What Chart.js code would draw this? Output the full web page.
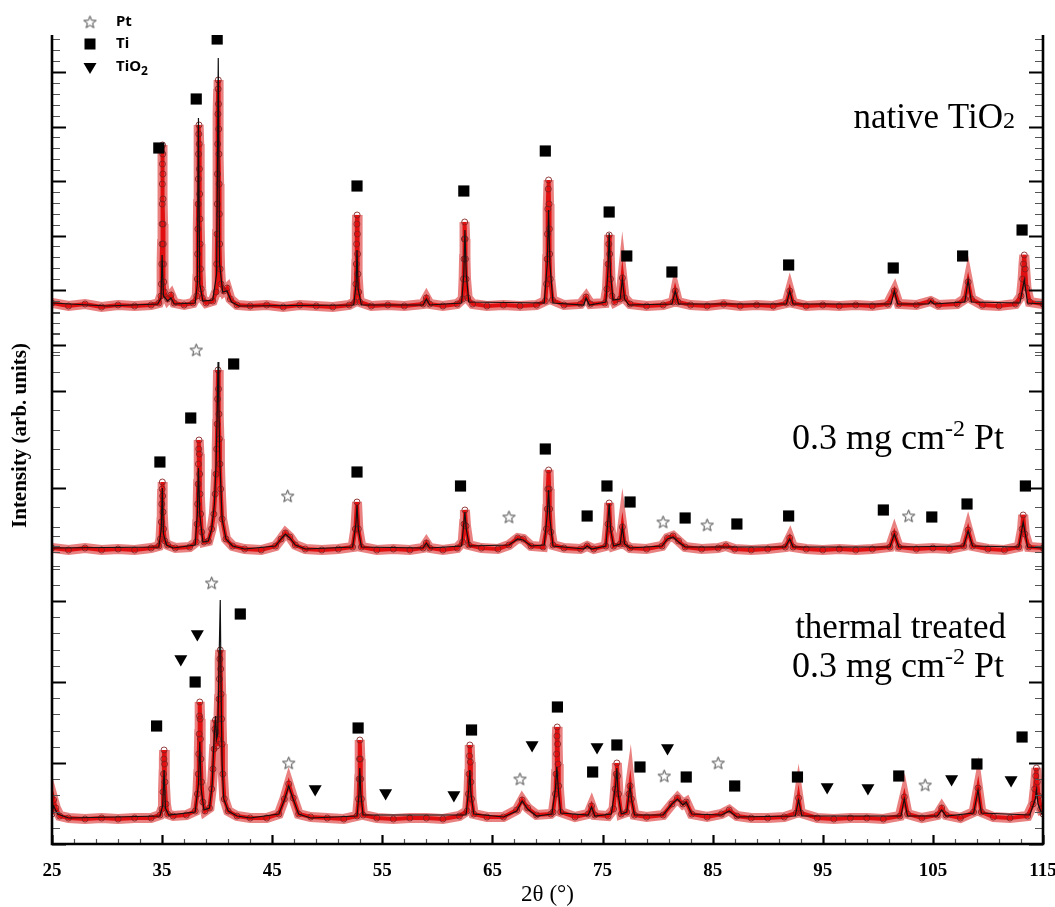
<!DOCTYPE html>
<html>
<head>
<meta charset="utf-8">
<title>XRD patterns</title>
<script src="https://cdn.jsdelivr.net/npm/chart.js@4.4.1/dist/chart.umd.min.js"></script>
<style>
  html, body { margin: 0; padding: 0; background: #fff; }
  #wrap { width: 1055px; height: 907px; }
</style>
</head>
<body>
<div id="wrap"><canvas id="xrdCanvas" width="1055" height="907"></canvas></div>
<script>
// 2theta / intensity pairs (intensity in arb. units)
const topObs = [[25,541],[26.5,538],[28,540],[29.5,537],[31,539],[32.5,538],[34,539],[34.7,541],
  [34.9,548],[34.94,560],[34.97,580],[34.99,600],[35.0,620],[35.01,640],[35.02,660],[35.03,680],[35.04,699],[35.06,690],[35.07,670],[35.08,645],[35.09,620],
  [35.1,600],[35.12,580],[35.15,562],[35.2,552],[35.5,545],[35.8,549],[36.1,541],[37,539],[37.8,541],
  [38.15,548],[38.2,565],[38.23,590],[38.25,615],[38.27,640],[38.29,665],[38.31,690],[38.33,710],[38.35,719],[38.37,700],[38.39,675],[38.41,650],[38.43,625],
  [38.45,600],[38.48,575],[38.55,555],[38.65,546],[39.0,541],[39.6,543],
  [39.9,552],[39.96,580],[39.99,610],[40.01,640],[40.03,670],[40.05,700],[40.07,730],[40.09,755],[40.1,764],[40.12,740],[40.14,715],[40.16,690],[40.18,660],
  [40.2,630],[40.23,600],[40.27,575],[40.35,560],[40.6,553],[40.9,556],[41.2,545],[41.8,539],
  [43,538],[44.5,539],[46,537],[47.5,539],[49,538],[50.5,537],[52,539],
  [52.5,542],[52.6,560],[52.64,580],[52.67,600],[52.69,620],[52.71,629],[52.73,610],[52.75,590],[52.78,570],[52.85,552],[52.95,542],
  [54,538],[55.5,539],[57,538],[58.7,540],[59.0,546],[59.3,540],[60.5,538],[61.8,540],
  [62.3,545],[62.38,565],[62.42,585],[62.45,605],[62.48,622],[62.52,605],[62.55,585],[62.6,565],[62.75,546],
  [63.2,540],[64.5,538],[66,539],[67.5,538],[69,539],
  [69.8,543],[69.92,560],[69.97,585],[70.0,610],[70.03,635],[70.07,655],[70.1,664],[70.14,640],[70.17,615],[70.2,590],[70.25,565],[70.45,544],
  [71.5,539],[73,540],[73.5,547],[73.9,540],
  [75.2,541],[75.4,555],[75.5,580],[75.57,600],[75.6,609],[75.65,590],[75.72,565],[75.85,548],[76.1,542],
  [76.6,545],[76.8,566],[77.0,546],[77.5,540],[79,538],[80.5,539],[81.4,542],[81.6,553],[81.85,542],[83,539],[84.5,538],[86,540],[87.5,538],[89,539],[90.5,538],
  [91.7,541],[92.0,553],[92.3,541],[93.5,538],[95,539],[96.5,538],[98,539],[99.5,538],[100.9,540],[101.5,553],[101.9,540],[103.5,539],[104.8,543],[105.5,539],
  [107.2,540],[107.9,545],[108.2,562],[108.5,545],[109.5,539],[111,538],[112.5,540],
  [113.0,548],[113.15,565],[113.23,580],[113.3,589],[113.38,575],[113.5,556],[113.8,542],[115,540]];
const topCalc = [[25,541],[30,538],[34.6,540],[34.9,546],[35.0,589],[35.12,548],[35.5,543],[35.8,546],[36.1,540],[38.0,541],[38.2,560],[38.3,726],[38.42,560],
  [38.7,543],[39.6,544],[39.95,570],[40.1,786],[40.22,580],[40.5,552],[40.9,553],[41.3,542],[42,538],[52.4,539],[52.62,560],[52.7,594],[52.8,555],[53.1,539],
  [58.7,539],[59.0,545],[59.3,539],[62.2,541],[62.4,570],[62.5,614],[62.62,570],[62.85,542],[69.7,541],[69.98,580],[70.1,634],[70.22,580],[70.5,541],
  [73.3,539],[73.5,546],[73.8,539],[75.3,542],[75.5,575],[75.6,611],[75.72,570],[75.95,544],[76.6,545],[76.8,565],[77.0,545],[77.4,539],[81.3,540],[81.6,553],
  [81.9,540],[91.7,540],[92.0,553],[92.3,540],[101.2,540],[101.5,553],[101.8,540],[104.6,540],[104.8,543],[105.1,540],[107.9,542],[108.2,564],[108.5,542],
  [112.9,541],[113.3,564],[113.6,541],[115,540]];

const midObs = [[25,296],[26.5,294],[28,296],[29.5,294],[31,295],[32.5,294],[34,296],[34.7,298],
  [34.85,305],[34.93,322],[34.97,340],[35.0,355],[35.02,362],[35.05,348],[35.08,332],[35.13,315],[35.25,303],
  [35.5,299],[36.2,296],[37.5,297],
  [38.1,302],[38.18,320],[38.23,340],[38.27,360],[38.3,380],[38.33,395],[38.35,404],[38.38,390],[38.41,370],[38.44,350],[38.5,330],[38.6,312],[38.8,302],
  [39.2,303],[39.5,315],[39.7,330],[39.82,350],[39.9,370],[39.96,395],[40.0,420],[40.04,445],[40.08,474],[40.12,455],[40.16,430],[40.2,405],[40.25,380],
  [40.32,355],[40.45,325],[40.8,305],[41.4,298],[42.5,295],[44,294],[45.3,298],[45.8,305],[46.2,311],
  [46.6,307],[47.1,299],[48,295],[49.5,294],[51,295],[52.3,297],[52.55,315],[52.7,342],[52.82,315],[53.1,297],[54.5,294],[56,295],[57.5,294],[58.7,296],
  [59.0,301],[59.3,296],[60.5,294],[61.8,296],[62.3,302],[62.42,320],[62.5,334],[62.6,318],[62.85,299],[64,296],[65.5,295],[66.5,299],[67.3,306],[67.8,305],
  [68.5,298],[69.6,297],[69.9,315],[69.98,335],[70.03,355],[70.1,374],[70.15,355],[70.2,335],[70.3,312],[70.5,299],
  [71.5,296],[73,295],[73.6,298],[74.2,295],[75.3,298],[75.5,320],[75.6,341],
  [75.72,315],[76.0,298],[76.6,300],[76.8,317],[77.0,300],[77.5,296],[79,295],[80.4,298],[80.9,306],[81.4,308],[81.9,303],[82.5,297],[84,295],[85.5,296],
  [86.2,298],[87,295],[88.5,294],[90,295],[91.6,297],[92.0,306],[92.3,297],[93.5,295],[95,294],[96.5,295],[98,294],[99.5,295],[101.1,297],[101.5,310],
  [101.9,297],[103.5,295],[105,296],[106.5,295],[107.8,298],[108.2,314],[108.6,298],[110,295],[111.5,294],[112.8,297],[113.1,315],[113.2,329],[113.35,310],
  [113.7,297],[115,296]];
const midCalc = [[25,296],[34.7,297],[34.92,315],[35.02,356],[35.12,310],[35.4,299],[36,296],[38.0,299],[38.2,330],[38.3,376],[38.42,330],[38.7,302],
  [39.2,303],[39.5,315],[39.75,340],[39.9,380],[40.0,430],[40.08,482],[40.15,440],[40.25,380],[40.45,325],[40.8,305],[41.4,298],[42.5,295],[45.3,298],
  [45.8,305],[46.2,310],[46.6,306],[47.1,299],[48,295],[52.3,297],[52.6,320],[52.7,339],[52.82,315],[53.1,297],[58.7,296],[59.0,301],[59.3,296],[62.2,298],
  [62.4,320],[62.5,332],[62.62,315],[62.9,298],[66.5,299],[67.3,305],[67.8,304],[68.5,298],[69.7,299],[69.98,330],[70.1,354],[70.22,325],[70.5,298],
  [73.3,295],[73.6,298],[74,295],[75.3,298],[75.5,325],[75.6,340],[75.72,315],[76.0,298],[76.6,300],[76.8,317],[77.0,300],[77.5,296],[80.4,298],[80.9,305],
  [81.4,307],[81.9,302],[82.5,297],[91.6,297],[92.0,305],[92.3,297],[101.1,297],[101.5,310],[101.9,297],[107.8,298],[108.2,313],[108.6,298],[112.8,297],
  [113.2,322],[113.6,297],[115,296]];

const botObs = [[25,30],[25.15,44],[25.35,36],[25.7,28],[26.5,26],[28,25],[29.5,26],[31,25],[32.5,26],[34,26],[34.8,29],
  [35.0,35],[35.08,52],[35.13,70],[35.16,85],[35.18,94],[35.22,80],[35.26,62],[35.35,40],[35.5,30],[36,28],[37.2,29],
  [38.0,33],[38.2,50],[38.28,70],[38.33,90],[38.37,110],[38.4,128],[38.42,142],[38.45,125],[38.48,105],[38.52,85],[38.58,62],[38.7,42],[38.9,33],
  [39.3,36],[39.5,55],[39.62,75],[39.72,95],[39.8,115],[39.84,124],[39.9,112],[39.97,98],[40.05,105],[40.12,125],[40.17,145],[40.21,165],[40.25,185],
  [40.28,194],[40.32,175],[40.36,150],[40.4,125],[40.45,100],[40.52,70],[40.65,45],[41,33],[41.8,28],[43,26],[44.5,26],[45.6,30],
  [46.1,45],[46.5,60],[46.9,46],[47.4,30],[48.5,27],[50,26],[51.5,25],
  [52.7,28],[52.84,45],[52.9,65],[52.93,85],[52.96,104],[53.0,85],[53.04,65],[53.1,45],[53.25,29],[54.5,26],[56,25],[57.5,26],
  [59,26],[60.5,25],[62,28],[62.7,33],[62.82,50],[62.88,70],[62.92,88],[62.95,99],[62.99,82],[63.04,62],[63.1,45],[63.3,30],[64.5,27],[66,27],
  [67.2,34],[67.7,44],[68.2,36],[69,29],[70.3,30],
  [70.5,32],[70.72,50],[70.78,70],[70.83,90],[70.86,108],[70.88,117],[70.92,100],[70.96,80],[71.02,58],[71.2,32],
  [72.5,27],[73.7,30],[74.0,38],[74.3,29],[75.5,28],
  [76.0,35],[76.15,55],[76.24,70],[76.3,81],[76.36,68],[76.45,50],[76.7,30],
  [77.2,32],[77.4,50],[77.5,58],[77.62,45],[77.9,29],[79,27],[80.5,29],[81.3,40],[81.8,46],[82.3,40],[82.6,42],[83.1,30],[84.5,27],[85.8,30],
  [86.5,34],[87.2,28],[88.5,26],[90,26],[91.5,27],[92.6,31],[92.8,46],[93.0,31],[94.5,26],[96,25],[97.5,26],[99,26],[100.5,25],[102,28],[102.4,47],
  [102.7,30],[104,26],[105.4,29],[105.8,36],[106.2,29],[107.5,26],[108.7,32],[109.1,56],[109.4,32],[110.5,27],[112,26],[113.6,28],
  [114.1,40],[114.25,55],[114.35,68],[114.4,76],[114.48,62],[114.6,48],[114.8,35],[115,30]];
const botCalc = [[25,32],[25.15,38],[25.5,30],[26.5,26],[34.8,28],[35.05,38],[35.18,74],[35.3,36],[35.6,29],[38.0,32],[38.3,60],[38.42,102],[38.55,55],
  [38.8,34],[39.3,36],[39.55,60],[39.7,100],[39.85,128],[39.95,105],[40.05,110],[40.15,170],[40.28,244],[40.36,150],[40.45,80],[40.6,45],[41,33],[41.8,28],
  [43,26],[45.6,30],[46.1,44],[46.5,58],[46.9,45],[47.4,30],[48.5,26],[52.7,28],[52.88,50],[52.95,76],[53.05,50],[53.25,29],[62.6,29],[62.85,55],[62.95,74],
  [63.05,50],[63.3,30],[66,27],[67.2,33],[67.7,43],[68.2,35],[69,28],[70.4,30],[70.72,55],[70.85,77],[70.98,55],[71.2,31],[73.7,29],[74.0,37],[74.3,28],
  [75.8,30],[76.2,60],[76.3,76],[76.42,50],[76.7,30],[77.2,32],[77.4,50],[77.5,58],[77.62,45],[77.9,29],[80.5,29],[81.3,40],[81.8,45],[82.3,39],[82.6,42],
  [83.1,30],[85.8,29],[86.5,33],[87.2,27],[92.5,28],[92.8,44],[93.1,28],[102.1,28],[102.4,45],[102.7,28],[105.4,28],[105.8,34],[106.2,28],[108.7,31],
  [109.1,54],[109.4,31],[113.8,29],[114.3,45],[114.4,54],[114.55,40],[114.9,30],[115,29]];

// phase markers
const tiMarkers = [[34.7,696],[38.1,745],[40.0,805],[52.7,658],[62.4,653],[69.8,693],[75.6,632],[77.2,588],[81.3,572],[91.9,579],[101.4,576],[107.7,588],[113.1,614],
  [41.5,480],[37.6,426],[34.8,382],[52.7,372],[62.1,358],[69.8,395],[73.6,328],[75.4,358],[77.5,342],[82.5,326],[87.2,320],[91.9,328],[100.5,334],[104.9,327],[108.1,340],[113.4,358],
  [42.1,230],[38.0,162],[34.5,118],[52.8,116],[63.1,114],[70.9,137],[74.1,72],[76.3,99],[78.4,77],[82.6,67],[87.0,58],[92.7,67],[101.9,68],[109.0,80],[113.1,107]];
const ptMarkers = [[38.1,494],[46.4,348],[66.5,327],[80.5,322],[84.5,319],[102.8,328],
  [39.5,261],[46.5,81],[67.5,65],[80.6,68],[85.5,81],[104.3,59]];
const tio2Markers = [[38.2,210],[36.7,185],[48.9,55],[55.3,51],[61.5,49],[68.6,99],[74.5,97],[80.9,96],[95.4,57],[99.1,56],[106.7,65],[112.1,64]];

// axes
const xMajorTicks = [25, 35, 45, 55, 65, 75, 85, 95, 105, 115];
const xMinorStep = 2;
// each panel: major tick values, minor divisions, extra minors above / below
const yTickPanels = [
  { majors: [499.5, 554, 608.5, 663, 717.5, 772], div: 5, above: 3, below: 1 },
  { majors: [356, 453], div: 5, above: 4, below: 4 },
  { majors: [0, 81, 162, 243], div: 5, above: 4, below: 0 }
];

const sampleLabels = [
  { parts: [['native TiO', 35, 0], ['2', 24, 0]], dx: -28, dy: 93 },
  { parts: [['0.3 mg cm', 36, 0], ['-2', 24, -13], [' Pt', 36, 0]], dx: -39, dy: 414 },
  { parts: [['thermal treated', 35, 0]], dx: -37, dy: 603 },
  { parts: [['0.3 mg cm', 36, 0], ['-2', 24, -13], [' Pt', 36, 0]], dx: -39, dy: 642 }
];

const toXY = arr => arr.map(p => ({ x: p[0], y: p[1] }));

function makeStar(size) {
  const c = document.createElement('canvas');
  c.width = size; c.height = size;
  const g = c.getContext('2d');
  const cx = size / 2, cy = size / 2 + 0.5, ro = size / 2 - 1, ri = ro * 0.42;
  g.beginPath();
  for (let i = 0; i < 10; i++) {
    const r = i % 2 ? ri : ro;
    const a = -Math.PI / 2 + i * Math.PI / 5;
    g.lineTo(cx + r * Math.cos(a), cy + r * Math.sin(a));
  }
  g.closePath();
  g.strokeStyle = '#444';
  g.lineWidth = 1;
  g.stroke();
  return c;
}
const starImg = makeStar(15);

const serif = "'Liberation Serif', 'Times New Roman', serif";

const framePlugin = {
  id: 'frame',
  afterDraw(chart) {
    const ctx = chart.ctx;
    const { left, right, top, bottom } = chart.chartArea;
    const xs = chart.scales.x, ys = chart.scales.y;
    ctx.save();
    ctx.strokeStyle = '#000';
    ctx.lineCap = 'butt';

    // y ticks (inward, both sides)
    yTickPanels.forEach(p => {
      const step = (p.majors[1] - p.majors[0]) / p.div;
      const lo = p.majors[0], hi = p.majors[p.majors.length - 1];
      for (let v = lo - p.below * step; v <= hi + p.above * step + 0.01; v += step) {
        const k = Math.round((v - lo) / step);
        const isMajor = k >= 0 && k % p.div === 0 && v <= hi + 0.01;
        const py = Math.round(ys.getPixelForValue(v)) + 0.5;
        if (py < top - 1 || py > bottom + 1) continue;
        const len = isMajor ? 14 : 8;
        ctx.lineWidth = isMajor ? 2.2 : 1.2;
        ctx.strokeStyle = isMajor ? '#000' : '#555';
        ctx.beginPath();
        ctx.moveTo(left, py); ctx.lineTo(left + len, py);
        ctx.moveTo(right, py); ctx.lineTo(right - len, py);
        ctx.stroke();
      }
    });

    // x ticks (inward)
    for (let v = xMajorTicks[0]; v <= xMajorTicks[xMajorTicks.length - 1]; v += xMinorStep) {
      const isMajor = xMajorTicks.includes(v);
      const px = Math.round(xs.getPixelForValue(v)) + 0.5;
      ctx.lineWidth = isMajor ? 2.2 : 1.2;
      ctx.strokeStyle = isMajor ? '#000' : '#555';
      ctx.beginPath();
      ctx.moveTo(px, bottom); ctx.lineTo(px, bottom - (isMajor ? 9 : 5));
      ctx.stroke();
    }

    // frame: left, right, bottom
    ctx.strokeStyle = '#000';
    ctx.lineWidth = 2.6;
    ctx.beginPath();
    ctx.moveTo(left, top); ctx.lineTo(left, bottom); ctx.lineTo(right, bottom); ctx.lineTo(right, top);
    ctx.stroke();

    // axis titles
    ctx.fillStyle = '#000';
    ctx.textAlign = 'center';
    ctx.textBaseline = 'middle';
    ctx.font = '23px ' + serif;
    ctx.fillText('2\u03B8 (\u00B0)', (left + right) / 2, bottom + 51);
    ctx.save();
    ctx.translate(left - 31, (top + bottom) / 2 - 4);
    ctx.rotate(-Math.PI / 2);
    ctx.font = 'bold 21px ' + serif;
    ctx.fillText('Intensity (arb. units)', 0, 0);
    ctx.restore();

    // legend
    const lx = left + 38;
    ctx.drawImage(starImg, lx - 7.5, 22 - 7.5);
    ctx.fillRect(lx - 5.5, 44 - 5.5, 11, 11);
    ctx.beginPath();
    ctx.moveTo(lx - 6.5, 63); ctx.lineTo(lx + 6.5, 63); ctx.lineTo(lx, 74); ctx.closePath();
    ctx.fill();
    ctx.textAlign = 'left';
    ctx.font = "bold 15px 'Noto Sans', sans-serif";
    ctx.fillText('Pt', lx + 26, 22);
    ctx.fillText('Ti', lx + 26, 44);
    ctx.fillText('TiO', lx + 26, 67);
    const w = ctx.measureText('TiO').width;
    ctx.font = "bold 12px 'Noto Sans', sans-serif";
    ctx.fillText('2', lx + 26 + w, 72);

    // sample names
    ctx.textBaseline = 'alphabetic';
    sampleLabels.forEach(lab => {
      let total = 0;
      lab.parts.forEach(pt => { ctx.font = pt[1] + 'px ' + serif; total += ctx.measureText(pt[0]).width; });
      let x = right + lab.dx - total;
      const base = top + lab.dy;
      lab.parts.forEach(pt => {
        ctx.font = pt[1] + 'px ' + serif;
        ctx.fillText(pt[0], x, base + pt[2]);
        x += ctx.measureText(pt[0]).width;
      });
    });
    ctx.restore();
  }
};

// observed points: red band + red core with open circles; calculated profile: thin black line
const haloStyle = {
  showLine: true,
  borderColor: 'rgba(215,25,25,0.55)',
  borderWidth: 10,
  pointRadius: 0,
  order: 6
};
const obsStyle = {
  showLine: true,
  borderColor: 'rgb(225,15,15)',
  borderWidth: 4,
  pointRadius: 3,
  pointBorderWidth: 1,
  pointBorderColor: 'rgba(130,30,30,0.85)',
  pointBackgroundColor: 'rgba(255,255,255,0)',
  order: 5
};
const calcStyle = {
  showLine: true,
  borderColor: '#111',
  borderWidth: 1.2,
  pointRadius: 0,
  order: 2
};

new Chart(document.getElementById('xrdCanvas'), {
  type: 'scatter',
  data: {
    datasets: [
      { label: 'Ti', data: toXY(tiMarkers), pointStyle: 'rect', pointRadius: 7.9, backgroundColor: '#000', borderColor: '#000', borderWidth: 0, order: 0 },
      { label: 'Pt', data: toXY(ptMarkers), pointStyle: starImg, pointRadius: 7, order: 0 },
      { label: 'TiO2', data: toXY(tio2Markers), pointStyle: 'triangle', rotation: 180, pointRadius: 7.5, backgroundColor: '#000', borderColor: '#000', borderWidth: 0, order: 0 },
      Object.assign({ label: 'native calc', data: toXY(topCalc) }, calcStyle),
      Object.assign({ label: '0.3 Pt calc', data: toXY(midCalc) }, calcStyle),
      Object.assign({ label: 'thermal calc', data: toXY(botCalc) }, calcStyle),
      Object.assign({ label: 'native obs', data: toXY(topObs) }, obsStyle),
      Object.assign({ label: '0.3 Pt obs', data: toXY(midObs) }, obsStyle),
      Object.assign({ label: 'thermal obs', data: toXY(botObs) }, obsStyle),
      Object.assign({ label: 'native band', data: toXY(topObs) }, haloStyle),
      Object.assign({ label: '0.3 Pt band', data: toXY(midObs) }, haloStyle),
      Object.assign({ label: 'thermal band', data: toXY(botObs) }, haloStyle)
    ]
  },
  options: {
    responsive: false,
    animation: false,
    layout: { padding: { left: 52, right: 12, top: 35, bottom: 0 }, autoPadding: false },
    scales: {
      x: {
        type: 'linear',
        min: 25,
        max: 115,
        grid: { display: false, drawTicks: false },
        border: { display: false },
        afterBuildTicks: scale => { scale.ticks = xMajorTicks.map(v => ({ value: v })); },
        afterFit: scale => { scale.height = 63; scale.paddingLeft = 0; scale.paddingRight = 0; },
        ticks: {
          autoSkip: false,
          maxRotation: 0,
          padding: 16,
          color: '#000',
          font: { family: serif, size: 19, weight: 'bold' }
        }
      },
      y: {
        type: 'linear',
        min: 0,
        max: 809,
        display: false
      }
    },
    plugins: {
      legend: { display: false },
      tooltip: { enabled: false }
    }
  },
  plugins: [framePlugin]
});
</script>
</body>
</html>
